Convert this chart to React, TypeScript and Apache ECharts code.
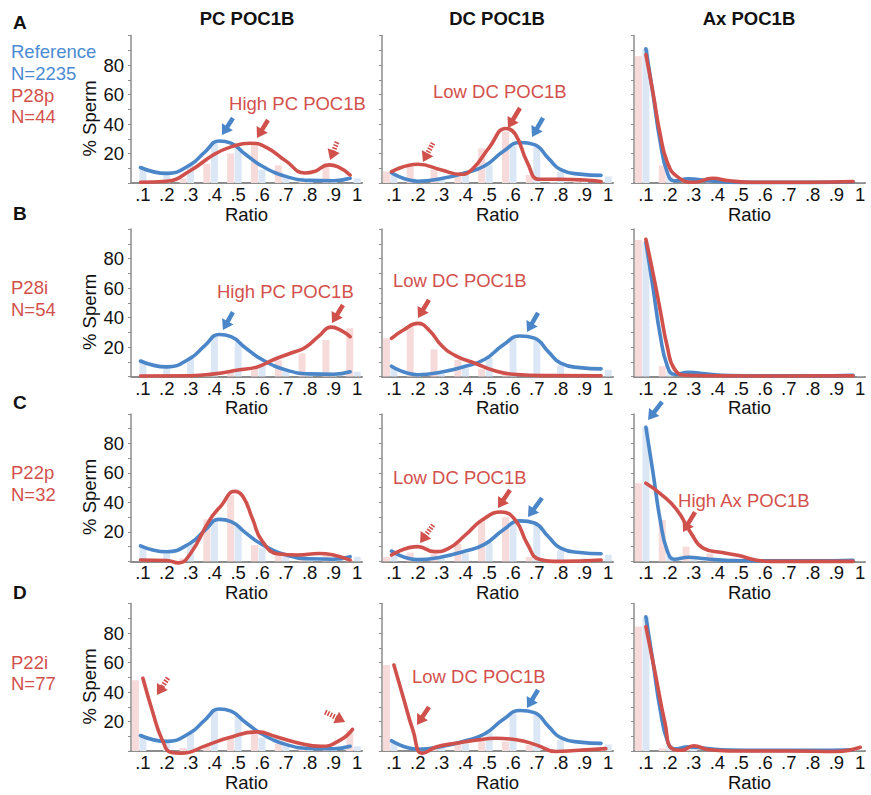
import React, { useEffect, useRef } from "react";
import * as echarts from "echarts";

// ---------------- DATA ----------------
const columnTitles = ["PC POC1B", "DC POC1B", "Ax POC1B"];
const rowLetters = ["A", "B", "C", "D"];
const referenceName = "Reference";
const referenceN = "N=2235";
const sampleNames = ["P28p", "P28i", "P22p", "P22i"];
const sampleNs = ["N=44", "N=54", "N=32", "N=77"];

const binCenters = [0.1, 0.2, 0.3, 0.4, 0.5, 0.6, 0.7, 0.8, 0.9, 1.0];
const xTickValues = [0.1, 0.2, 0.3, 0.4, 0.5, 0.6, 0.7, 0.8, 0.9, 1.0];
const xTickLabels = [".1", ".2", ".3", ".4", ".5", ".6", ".7", ".8", ".9", "1"];
const yTickLabelValues = [20, 40, 60, 80];

// Reference (blue) histograms, % sperm per ratio bin
const refPcBars = [9.5, 6.5, 12, 28.5, 24, 9, 4, 1.5, 1, 3.2];
const refDcBars = [6.5, 1, 2, 5.5, 12.5, 25.5, 25, 7.5, 2, 4.5];
const refAxBars = [91, 4, 2, 1, 0.5, 0.3, 0.2, 0.2, 0.2, 0.2];

// Reference (blue) density curves [ratio, %]
const refPcCurve = [[0.09, 10.5], [0.2, 6.5], [0.3, 12.5], [0.36, 21], [0.42, 28.5], [0.47, 27], [0.53, 19.5], [0.6, 11.5], [0.7, 4.5], [0.8, 1.8], [0.9, 1.5], [0.97, 3.2]];
const refDcCurve = [[0.09, 7], [0.2, 1.2], [0.3, 3], [0.4, 7], [0.48, 11.5], [0.56, 21.5], [0.63, 27.5], [0.69, 26], [0.75, 16.5], [0.8, 9], [0.88, 6], [0.97, 5.2]];
const refAxCurve = [[0.1, 91], [0.13, 60], [0.16, 28], [0.19, 7], [0.22, 1.5], [0.28, 2.8], [0.35, 1.8], [0.45, 0.6], [0.6, 0.4], [0.8, 0.4], [0.97, 0.8]];

// Patient (red) histograms
const p28pPcBars = [0, 1, 3, 13, 20, 26, 12, 1, 12, 0];
const p28pDcBars = [7.7, 11, 8.8, 6.6, 23.5, 34.8, 5.4, 0.5, 0.5, 0.3];
const p28pAxBars = [86, 12, 1, 1.5, 0.3, 0, 0, 0, 0, 0];
const p28iPcBars = [0, 0, 0.5, 1, 3, 5, 11, 15.7, 24.7, 32.7];
const p28iDcBars = [25.9, 33.8, 18.4, 11.2, 5, 1, 0.5, 0.3, 0.3, 0.3];
const p28iAxBars = [92.5, 7, 0.5, 0.3, 0, 0, 0, 0, 0, 0];
const p22pPcBars = [0, 0, 2, 28.5, 45, 11, 4, 4, 4, 1];
const p22pDcBars = [3, 6, 5, 12, 28, 30, 3, 0, 0, 0];
const p22pAxBars = [53, 28, 10, 5.4, 2, 0, 0, 0, 0, 0];
const p22iPcBars = [48, 0, 2, 4, 9.7, 13, 5, 2, 2, 14.2];
const p22iDcBars = [58.3, 0, 2, 5.2, 8.6, 6.3, 4, 0, 1, 2];
const p22iAxBars = [84.3, 1.8, 1, 0, 0, 0, 0, 0, 0, 2];

// Patient (red) density curves
const p28pPcCurve = [[0.09, 0.5], [0.2, 1.2], [0.3, 8.5], [0.4, 19.5], [0.47, 24.5], [0.55, 27], [0.62, 24], [0.7, 15], [0.78, 6.8], [0.82, 7.8], [0.88, 12.3], [0.92, 11], [0.97, 5.4]];
const p28pDcCurve = [[0.09, 7.7], [0.2, 12.7], [0.3, 8.8], [0.38, 5.9], [0.43, 9.5], [0.5, 24], [0.57, 37], [0.61, 33], [0.66, 14], [0.71, 2.5], [0.8, 2.5], [0.9, 2], [0.97, 1]];
const p28pAxCurve = [[0.1, 87], [0.13, 61], [0.16, 33], [0.19, 14], [0.23, 4.5], [0.3, 0.5], [0.38, 3.2], [0.45, 1.5], [0.55, 0.5], [0.8, 0.5], [0.97, 1]];
const p28iPcCurve = [[0.09, 0.3], [0.3, 0.5], [0.4, 1.8], [0.5, 4.4], [0.58, 6.5], [0.65, 11.5], [0.72, 15.8], [0.78, 19.5], [0.84, 27.5], [0.89, 33.5], [0.93, 31.5], [0.97, 27]];
const p28iDcCurve = [[0.09, 25.9], [0.14, 31.5], [0.2, 36], [0.25, 31], [0.3, 21], [0.36, 14], [0.44, 9], [0.52, 4], [0.6, 1.5], [0.75, 0.6], [0.97, 0.5]];
const p28iAxCurve = [[0.1, 93], [0.13, 70], [0.16, 45], [0.19, 20], [0.22, 5], [0.27, 0.8], [0.4, 0.5], [0.7, 0.3], [0.97, 0.5]];
const p22pPcCurve = [[0.09, 0.9], [0.2, 0.6], [0.25, -1], [0.3, 5.4], [0.38, 28], [0.43, 38], [0.485, 47.5], [0.52, 44], [0.56, 29], [0.6, 14], [0.67, 5], [0.75, 4.3], [0.84, 5.4], [0.9, 4.3], [0.97, 0.9]];
const p22pDcCurve = [[0.09, 4.3], [0.2, 10], [0.27, 6.6], [0.33, 8.8], [0.4, 17.9], [0.47, 28], [0.55, 33.5], [0.61, 28], [0.66, 12], [0.71, 1.5], [0.8, 0], [0.97, 0.9]];
const p22pAxCurve = [[0.1, 53], [0.16, 46], [0.23, 35], [0.29, 19], [0.34, 9], [0.42, 6], [0.49, 4], [0.56, 1], [0.62, 0], [0.8, 0], [0.97, 0]];
const p22iPcCurve = [[0.1, 49.3], [0.14, 27], [0.18, 8], [0.22, -1], [0.26, -1.5], [0.37, 4], [0.46, 9], [0.58, 13], [0.66, 9.7], [0.74, 6], [0.85, 3.2], [0.93, 7.5], [0.98, 14.7]];
const p22iDcCurve = [[0.1, 58.3], [0.14, 36], [0.18, 14], [0.22, -1.5], [0.28, 2.9], [0.36, 5.2], [0.45, 7.5], [0.53, 8.6], [0.62, 7.5], [0.7, 4], [0.78, -0.3], [0.86, 0.3], [0.99, 1.6]];
const p22iAxCurve = [[0.1, 84.3], [0.14, 52], [0.18, 19], [0.21, 1.5], [0.25, 0.5], [0.3, 3.6], [0.36, 1], [0.45, 0], [0.7, 0], [0.9, -0.3], [1.0, 2.5]];

const refBars = [refPcBars, refDcBars, refAxBars];
const refCurves = [refPcCurve, refDcCurve, refAxCurve];
const sampleBars = [
  [p28pPcBars, p28pDcBars, p28pAxBars],
  [p28iPcBars, p28iDcBars, p28iAxBars],
  [p22pPcBars, p22pDcBars, p22pAxBars],
  [p22iPcBars, p22iDcBars, p22iAxBars],
];
const sampleCurves = [
  [p28pPcCurve, p28pDcCurve, p28pAxCurve],
  [p28iPcCurve, p28iDcCurve, p28iAxCurve],
  [p22pPcCurve, p22pDcCurve, p22pAxCurve],
  [p22iPcCurve, p22iDcCurve, p22iAxCurve],
];

// Annotations (positions in data coordinates of a panel)
const annotationTexts = [
  { row: 0, col: 0, x: 0.462, y: 54.2, text: "High PC POC1B" },
  { row: 0, col: 1, x: 0.264, y: 61.7, text: "Low DC POC1B" },
  { row: 1, col: 0, x: 0.411, y: 57.3, text: "High PC POC1B" },
  { row: 1, col: 1, x: 0.096, y: 65.4, text: "Low DC POC1B" },
  { row: 2, col: 1, x: 0.096, y: 57.2, text: "Low DC POC1B" },
  { row: 2, col: 2, x: 0.235, y: 41.6, text: "High Ax POC1B" },
  { row: 3, col: 1, x: 0.176, y: 50.2, text: "Low DC POC1B" },
];
const arrows = [
  { row: 0, col: 0, x: 0.432, y: 32.5, dx: 11, dy: -17, blue: true, dashed: false },
  { row: 0, col: 0, x: 0.579, y: 30.5, dx: 11, dy: -18, blue: false, dashed: false },
  { row: 0, col: 0, x: 0.886, y: 15.6, dx: 7, dy: -18, blue: false, dashed: true },
  { row: 0, col: 1, x: 0.579, y: 37.3, dx: 12, dy: -20, blue: false, dashed: false },
  { row: 0, col: 1, x: 0.68, y: 31.2, dx: 11, dy: -19, blue: true, dashed: false },
  { row: 0, col: 1, x: 0.222, y: 14.2, dx: 10, dy: -19, blue: false, dashed: true },
  { row: 1, col: 0, x: 0.436, y: 31.5, dx: 10, dy: -18, blue: true, dashed: false },
  { row: 1, col: 0, x: 0.894, y: 36.3, dx: 11, dy: -18, blue: false, dashed: false },
  { row: 1, col: 1, x: 0.201, y: 39.7, dx: 11, dy: -18, blue: false, dashed: false },
  { row: 1, col: 1, x: 0.659, y: 30.2, dx: 11, dy: -19, blue: true, dashed: false },
  { row: 2, col: 1, x: 0.537, y: 36.2, dx: 12, dy: -18, blue: false, dashed: false },
  { row: 2, col: 1, x: 0.663, y: 30.1, dx: 14, dy: -19, blue: true, dashed: false },
  { row: 2, col: 1, x: 0.21, y: 12.5, dx: 13, dy: -18, blue: false, dashed: true },
  { row: 2, col: 2, x: 0.256, y: 19.9, dx: 12, dy: -20, blue: false, dashed: false },
  { row: 2, col: 2, x: 0.109, y: 95.9, dx: 14, dy: -18, blue: true, dashed: false },
  { row: 3, col: 0, x: 0.159, y: 38, dx: 11, dy: -17, blue: false, dashed: true },
  { row: 3, col: 0, x: 0.949, y: 19.7, dx: -20, dy: -10, blue: false, dashed: true },
  { row: 3, col: 1, x: 0.197, y: 17.6, dx: 12, dy: -18, blue: false, dashed: false },
  { row: 3, col: 1, x: 0.659, y: 29.2, dx: 11, dy: -18, blue: true, dashed: false },
];

// ---------------- LAYOUT / STYLE ----------------
const W = 871;
const H = 795;
const COL_LEFT = [131, 382, 634];
const ROW_ZERO = [183, 376.5, 561.4, 751];
const PLOT_W = 231;
const PLOT_H = 147.5;
const X_MIN = 0.05;
const X_MAX = 1.02;
const FONT = '"Liberation Sans", Arial, Helvetica, sans-serif';
const BLUE = "#4A86C8";
const RED = "#D0504C";
const BLUE_TEXT = "#4C8BD2";
const RED_TEXT = "#D3514D";
const BLUE_BAR = "#DCE7F5";
const RED_BAR = "#F7DADA";
const AXIS = "#8C8C8C";
const INK = "#111111";

function xLabel(v: number) {
  const i = xTickValues.findIndex((t) => Math.abs(t - v) < 1e-6);
  return i >= 0 ? xTickLabels[i] : "";
}

function barSeries(idx: number, values: number[], color: string, offset: number) {
  return {
    type: "custom",
    xAxisIndex: idx,
    yAxisIndex: idx,
    silent: true,
    z: 1,
    data: binCenters.map((x, i) => [x, values[i]]),
    renderItem: (_params: any, api: any) => {
      const top = api.coord([api.value(0), api.value(1)]);
      const base = api.coord([api.value(0), 0]);
      return {
        type: "rect",
        shape: { x: top[0] + offset, y: top[1], width: 7, height: base[1] - top[1] },
        style: { fill: color },
      };
    },
  };
}

function lineSeries(idx: number, curve: number[][], color: string, z: number) {
  return {
    type: "line",
    xAxisIndex: idx,
    yAxisIndex: idx,
    data: curve,
    smooth: 0.5,
    symbol: "none",
    clip: false,
    silent: true,
    z,
    lineStyle: { color, width: 3.6, cap: "round", join: "round" },
  };
}

function buildOption() {
  const grid: any[] = [];
  const xAxis: any[] = [];
  const yAxis: any[] = [];
  const series: any[] = [];
  const graphic: any[] = [];

  for (let r = 0; r < 4; r++) {
    for (let c = 0; c < 3; c++) {
      const idx = r * 3 + c;
      grid.push({ left: COL_LEFT[c], top: ROW_ZERO[r] - PLOT_H, width: PLOT_W, height: PLOT_H });
      xAxis.push({
        type: "value",
        gridIndex: idx,
        min: X_MIN,
        max: X_MAX,
        splitLine: { show: false },
        axisLine: { show: true, onZero: false, lineStyle: { color: AXIS, width: 2 } },
        axisTick: { show: false },
        axisLabel: {
          show: true,
          customValues: xTickValues,
          formatter: (v: number) => xLabel(v),
          color: INK,
          fontSize: 18.5,
          fontFamily: FONT,
          margin: 2,
        },
        name: "Ratio",
        nameLocation: "middle",
        nameGap: 21,
        nameTextStyle: { fontSize: 18.5, color: INK, fontFamily: FONT },
      });
      yAxis.push({
        type: "value",
        gridIndex: idx,
        min: 0,
        max: 100,
        interval: 10,
        splitLine: { show: false },
        axisLine: { show: true, onZero: false, lineStyle: { color: AXIS, width: 1.5 } },
        axisTick: { show: true, length: 3, lineStyle: { color: AXIS, width: 1 } },
        axisLabel: {
          show: c === 0,
          formatter: (v: number) => (yTickLabelValues.indexOf(v) >= 0 ? String(v) : ""),
          color: INK,
          fontSize: 18.5,
          fontFamily: FONT,
          margin: 7,
        },
      });
      series.push(barSeries(idx, sampleBars[r][c], RED_BAR, -11));
      series.push(barSeries(idx, refBars[c], BLUE_BAR, -3.5));
      series.push(lineSeries(idx, refCurves[c], BLUE, 3));
      series.push(lineSeries(idx, sampleCurves[r][c], RED, 4));
    }
  }

  const titleX = [247, 497, 749];
  columnTitles.forEach((t, c) => {
    graphic.push({
      type: "text",
      x: titleX[c],
      y: 18.5,
      style: { text: t, font: `bold 18.5px ${FONT}`, fill: INK, align: "center", verticalAlign: "middle" },
    });
  });
  const letterY = [22, 213, 402, 592];
  rowLetters.forEach((l, r) => {
    graphic.push({
      type: "text",
      x: 13,
      y: letterY[r],
      style: { text: l, font: `bold 19px ${FONT}`, fill: INK, align: "left", verticalAlign: "middle" },
    });
    graphic.push({
      type: "text",
      x: 89,
      y: ROW_ZERO[r] - 64.5,
      rotation: Math.PI / 2,
      style: { text: "% Sperm", font: `18.5px ${FONT}`, fill: INK, align: "center", verticalAlign: "middle" },
    });
    const labels: [string, string][] =
      r === 0
        ? [
            [referenceName, BLUE_TEXT],
            [referenceN, BLUE_TEXT],
            [sampleNames[r], RED_TEXT],
            [sampleNs[r], RED_TEXT],
          ]
        : [
            [sampleNames[r], RED_TEXT],
            [sampleNs[r], RED_TEXT],
          ];
    const startY = r === 0 ? 51.7 : ROW_ZERO[r] - 89;
    labels.forEach(([t, col], k) => {
      graphic.push({
        type: "text",
        x: 11,
        y: startY + k * 21.7,
        style: { text: t, font: `18.5px ${FONT}`, fill: col, align: "left", verticalAlign: "middle" },
      });
    });
  });

  return {
    animation: false,
    backgroundColor: "#ffffff",
    grid,
    xAxis,
    yAxis,
    series,
    graphic,
  };
}

function annotationElements(chart: any) {
  const els: any[] = [];
  annotationTexts.forEach((a) => {
    const p = chart.convertToPixel({ gridIndex: a.row * 3 + a.col }, [a.x, a.y]);
    els.push({
      type: "text",
      x: p[0],
      y: p[1],
      z: 10,
      style: { text: a.text, font: `18.5px ${FONT}`, fill: RED_TEXT, align: "left", verticalAlign: "middle" },
    });
  });
  arrows.forEach((a) => {
    const tip = chart.convertToPixel({ gridIndex: a.row * 3 + a.col }, [a.x, a.y]);
    const tail = [tip[0] + a.dx, tip[1] + a.dy];
    const len = Math.hypot(a.dx, a.dy);
    const ux = -a.dx / len;
    const uy = -a.dy / len;
    const headLen = 10;
    const halfW = 6.5;
    const bx = tip[0] - ux * headLen;
    const by = tip[1] - uy * headLen;
    const nx = -uy;
    const ny = ux;
    const color = a.blue ? BLUE : RED;
    els.push({
      type: "line",
      z: 10,
      shape: { x1: tail[0], y1: tail[1], x2: bx + ux * 1, y2: by + uy * 1 },
      style: { stroke: color, lineWidth: a.dashed ? 5 : 4.5, lineDash: a.dashed ? [1.6, 1.4] : null },
    });
    els.push({
      type: "polygon",
      z: 10,
      shape: {
        points: [
          [tip[0], tip[1]],
          [bx + nx * halfW, by + ny * halfW],
          [bx - nx * halfW, by - ny * halfW],
        ],
      },
      style: { fill: color },
    });
  });
  return els;
}

export default function App() {
  const ref = useRef<HTMLDivElement>(null);
  useEffect(() => {
    if (!ref.current) return;
    const chart = echarts.init(ref.current, undefined, { renderer: "svg", width: W, height: H });
    const option: any = buildOption();
    chart.setOption(option);
    const extra = annotationElements(chart);
    chart.setOption({ graphic: [...option.graphic, ...extra] });
    return () => chart.dispose();
  }, []);
  return (
    <div
      ref={ref}
      style={{ position: "absolute", left: 0, top: 0, width: W, height: H, background: "#fff" }}
    />
  );
}
